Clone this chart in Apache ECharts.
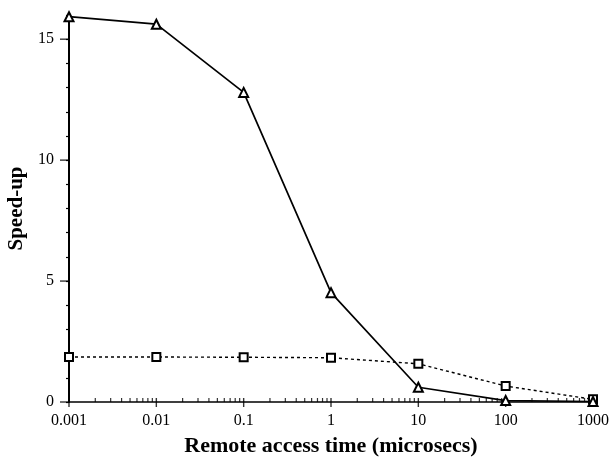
<!DOCTYPE html>
<html>
<head>
<meta charset="utf-8">
<script src="https://cdn.jsdelivr.net/npm/echarts@6/dist/echarts.min.js"></script>
<style>html,body{margin:0;padding:0;background:#fff;}#c{width:609px;height:458px;}</style>
</head>
<body>
<div id="c"></div>
<script>
// Data
const accessTimes = [0.001, 0.01, 0.1, 1, 10, 100, 1000];
const speedupTriangle = [15.93, 15.62, 12.8, 4.52, 0.61, 0.06, 0.02];
const speedupSquare = [1.86, 1.86, 1.85, 1.83, 1.58, 0.66, 0.11];
const yTickValues = [0,1,2,3,4,5,6,7,8,9,10,11,12,13,14,15,16];
const yLabelValues = [0, 5, 10, 15];
const xMinorMultipliers = [2,3,4,5,6,7,8,9];

const xMinorTicks = [];
for (let i = 0; i < accessTimes.length - 1; i++) {
  for (const m of xMinorMultipliers) xMinorTicks.push([accessTimes[i] * m, 0]);
}
const xMajorTicks = accessTimes.map(x => [x, 0]);
const yMajorTicks = yLabelValues.map(v => [accessTimes[0], v]);

const font = 'Liberation Serif';
const chart = echarts.init(document.getElementById('c'), null, {renderer: 'canvas'});
chart.setOption({
  animation: false,
  backgroundColor: '#fff',
  grid: {left: 69, right: 16, top: 15, bottom: 56, containLabel: false, outerBoundsMode: 'none'},
  xAxis: {
    type: 'log', logBase: 10, min: 0.001, max: 1000,
    name: 'Remote access time (microsecs)', nameLocation: 'middle', nameGap: 33,
    nameTextStyle: {fontFamily: font, fontWeight: 'bold', fontSize: 22, color: '#000'},
    axisLine: {show: true, lineStyle: {color: '#000', width: 1.6}},
    axisTick: {show: false},
    axisLabel: {fontFamily: font, fontSize: 16, color: '#000', margin: 11,
      formatter: v => String(v)},
    splitLine: {show: false}, minorSplitLine: {show: false}
  },
  yAxis: {
    type: 'value', min: 0, max: 16, interval: 1,
    name: 'Speed-up', nameLocation: 'middle', nameGap: 38, nameRotate: 90,
    nameTextStyle: {fontFamily: font, fontWeight: 'bold', fontSize: 21, color: '#000'},
    axisLine: {show: true, lineStyle: {color: '#000', width: 2}},
    axisTick: {show: true, length: 3, customValues: yTickValues, lineStyle: {color: '#000', width: 1.2}},
    axisLabel: {fontFamily: font, fontSize: 16, color: '#000', margin: 15, customValues: yLabelValues},
    splitLine: {show: false}
  },
  series: [{
    type: 'line', data: accessTimes.map((x, i) => [x, speedupTriangle[i]]),
    symbol: 'emptyTriangle', symbolSize: 9, showAllSymbol: true,
    lineStyle: {color: '#000', width: 1.7},
    itemStyle: {color: '#000', borderWidth: 1.6},
    clip: false, z: 5
  }, {
    type: 'line', data: accessTimes.map((x, i) => [x, speedupSquare[i]]),
    symbol: 'emptyRect', symbolSize: 8, showAllSymbol: true,
    lineStyle: {color: '#000', width: 1.4, type: [3, 3]},
    itemStyle: {color: '#000', borderWidth: 1.6},
    clip: false, z: 4
  }, {
    type: 'scatter', data: xMinorTicks, symbol: 'rect', symbolSize: [1.2, 4], symbolOffset: [0, -2],
    itemStyle: {color: '#000'}, silent: true, clip: false, z: 3
  }, {
    type: 'scatter', data: xMajorTicks, symbol: 'rect', symbolSize: [1.4, 9], symbolOffset: [0, 0.5],
    itemStyle: {color: '#000'}, silent: true, clip: false, z: 3
  }, {
    type: 'scatter', data: yMajorTicks, symbol: 'rect', symbolSize: [9, 1.4], symbolOffset: [-4.5, 0],
    itemStyle: {color: '#000'}, silent: true, clip: false, z: 3
  }]
});
</script>
</body>
</html>
